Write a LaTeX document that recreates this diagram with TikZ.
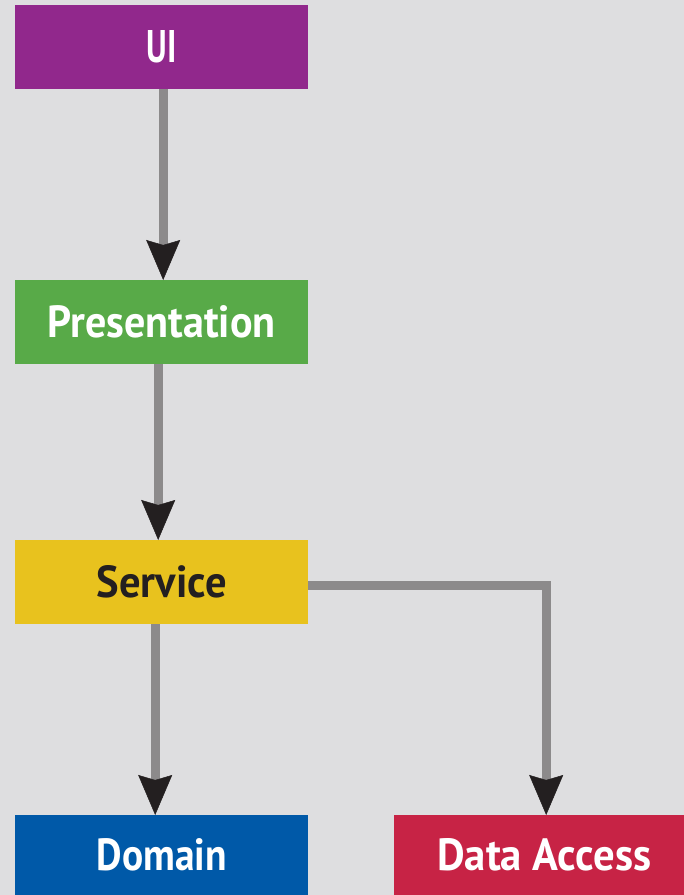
\documentclass[tikz,border=0pt]{standalone}
\usepackage{graphicx}
\usepackage{fontspec}
\setmainfont{PT Sans}
\usetikzlibrary{arrows.meta}
\definecolor{bg}{HTML}{DEDEE0}
\definecolor{uipurple}{HTML}{91288C}
\definecolor{presgreen}{HTML}{58AA48}
\definecolor{servyellow}{HTML}{E8C21E}
\definecolor{domblue}{HTML}{0059A8}
\definecolor{dared}{HTML}{C72345}
\definecolor{linegray}{HTML}{8C8A8B}
\definecolor{tipdark}{HTML}{231F20}
\newcommand{\lbl}[3]{\resizebox{#1pt}{#2pt}{\bfseries #3}}
\begin{document}
\begin{tikzpicture}[x=1pt,y=-1pt,
  box/.style={draw=none, minimum width=293pt, minimum height=84pt, inner sep=0pt, anchor=north west, text=white},
  arr/.style={draw=linegray, line width=9pt, -{Stealth[length=40pt,width=34pt,inset=5pt,line width=0.5pt,color=tipdark]}}]
\useasboundingbox (0,0) rectangle (684,895);
\fill[bg] (0,0) rectangle (684,895);
\node[box, fill=uipurple] (ui) at (15,5) {\lbl{30}{32}{UI}};
\node[box, fill=presgreen] (pres) at (15,280) {\lbl{228}{32}{Presentation}};
\node[box, fill=servyellow, text=tipdark] (serv) at (15,540) {\lbl{130}{32}{Service}};
\node[box, fill=domblue, minimum height=80pt] (dom) at (15,815) {\lbl{130}{32}{Domain}};
\node[box, fill=dared, minimum height=80pt, minimum width=300pt] (da) at (394,815) {\lbl{214}{32}{Data Access}};
\draw[arr] ([xshift=1.5pt]ui.south) -- ([xshift=1.5pt]pres.north);
\draw[arr] ([xshift=-3.5pt]pres.south) -- ([xshift=-3.5pt]serv.north);
\draw[arr] ([xshift=-6.5pt]serv.south) -- ([xshift=-6.5pt]dom.north);
\draw[arr] ([yshift=-3pt]serv.east) -| ([xshift=2pt]da.north);
\end{tikzpicture}
\end{document}
